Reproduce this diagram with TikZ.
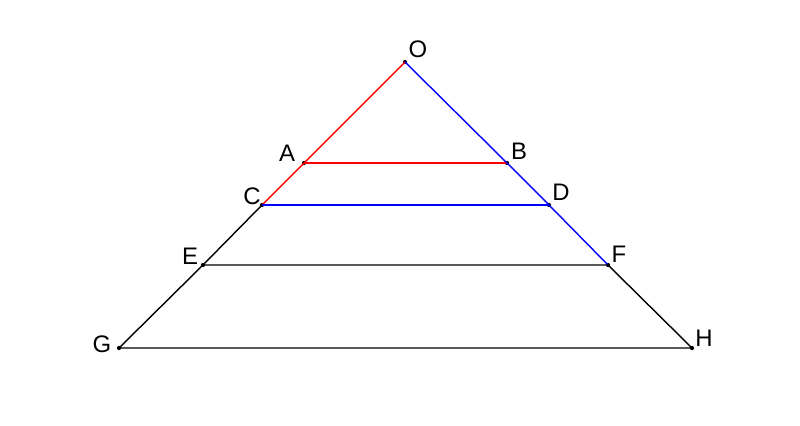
\documentclass[tikz,border=0pt]{standalone}
\usepackage{fontspec}
\setmainfont{Liberation Sans}
\tikzset{pt/.style={circle,fill=black,inner sep=0pt,minimum size=3pt}}
\tikzset{lbl/.style={font=\fontsize{17}{19}\selectfont,inner sep=0pt}}
\begin{document}
\begin{tikzpicture}[x=0.025cm,y=-0.025cm]
        \useasboundingbox (0,0) rectangle (800,426);

        \node[pt] (O) at (405,62) {};
        \node[pt] (A) at (304,163) {};
        \node[pt] (B) at (507,163) {};
        \node[pt] (C) at (262,205) {};
        \node[pt] (D) at (549,205) {};
        \node[pt] (E) at (203,265) {};
        \node[pt] (F) at (608,265) {};
        \node[pt] (G) at (119,348) {};
        \node[pt] (H) at (692,348) {};

        \draw[line width=1pt,red] (O.center) -- (A.center) -- (C.center);
        \draw[line width=1pt,red] (A.center) -- (B.center);
        \draw[line width=1pt,blue] (O.center) -- (B.center) -- (D.center) -- (F.center);
        \draw[line width=1pt,blue] (C.center) -- (D.center);
        \draw[line width=1pt] (C.center) -- (E.center) -- (G.center) -- (H.center) -- (F.center) -- (E.center);

        \node[lbl] (Ol) at (418,49) {O};
        \node[lbl] (Al) at (287,153) {A};
        \node[lbl] (Bl) at (519,151) {B};
        \node[lbl] (Cl) at (252,196) {C};
        \node[lbl] (Dl) at (561,192) {D};
        \node[lbl] (El) at (190,256) {E};
        \node[lbl] (Fl) at (619,254) {F};
        \node[lbl] (Gl) at (102,344) {G};
        \node[lbl] (Hl) at (704,338) {H};

\end{tikzpicture}
\end{document}
